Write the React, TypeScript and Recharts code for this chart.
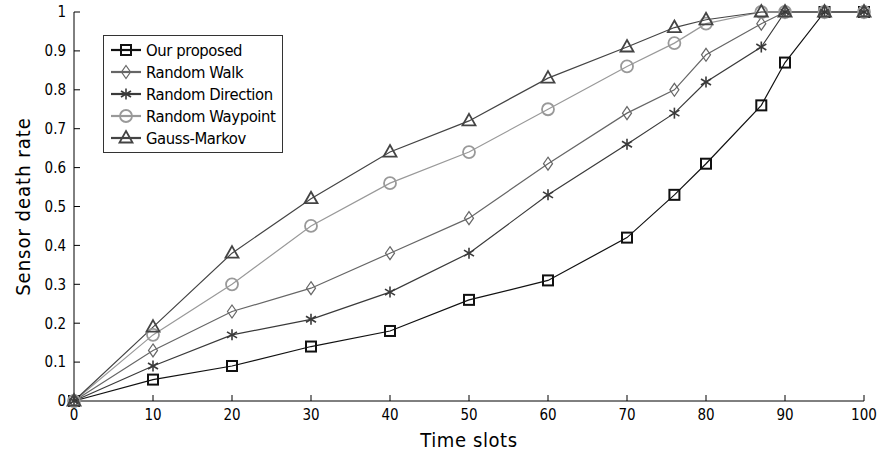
import { LineChart, Line, XAxis, YAxis, Legend, Label } from 'recharts'

const timeSlots = [0, 10, 20, 30, 40, 50, 60, 70, 76, 80, 87, 90, 95, 100]
const ourProposed = [0, 0.055, 0.09, 0.14, 0.18, 0.26, 0.31, 0.42, 0.53, 0.61, 0.76, 0.87, 1, 1]
const randomWalk = [0, 0.13, 0.23, 0.29, 0.38, 0.47, 0.61, 0.74, 0.8, 0.89, 0.97, 1, 1, 1]
const randomDirection = [0, 0.09, 0.17, 0.21, 0.28, 0.38, 0.53, 0.66, 0.74, 0.82, 0.91, 1, 1, 1]
const randomWaypoint = [0, 0.17, 0.3, 0.45, 0.56, 0.64, 0.75, 0.86, 0.92, 0.97, 1, 1, 1, 1]
const gaussMarkov = [0, 0.19, 0.38, 0.52, 0.64, 0.72, 0.83, 0.91, 0.96, 0.98, 1, 1, 1, 1]

const xTicks = [0, 10, 20, 30, 40, 50, 60, 70, 80, 90, 100]
const yTicks = [0, 0.1, 0.2, 0.3, 0.4, 0.5, 0.6, 0.7, 0.8, 0.9, 1]

type Marker = 'square' | 'diamond' | 'star' | 'circle' | 'triangle'

const series: { key: string; name: string; color: string; marker: Marker; values: number[] }[] = [
  { key: 'ourProposed', name: 'Our proposed', color: '#111', marker: 'square', values: ourProposed },
  { key: 'randomWalk', name: 'Random Walk', color: '#666', marker: 'diamond', values: randomWalk },
  { key: 'randomDirection', name: 'Random Direction', color: '#3a3a3a', marker: 'star', values: randomDirection },
  { key: 'randomWaypoint', name: 'Random Waypoint', color: '#999', marker: 'circle', values: randomWaypoint },
  { key: 'gaussMarkov', name: 'Gauss-Markov', color: '#444', marker: 'triangle', values: gaussMarkov }
]

const data = timeSlots.map((t, i) => {
  const row: Record<string, number> = { t }
  series.forEach((s) => {
    row[s.key] = s.values[i]
  })
  return row
})

const FONT = '"Liberation Sans Narrow", "DejaVu Sans Condensed", "Liberation Sans", sans-serif'

function markerShape(marker: Marker, cx: number, cy: number, color: string, key?: string) {
  switch (marker) {
    case 'square':
      return (
        <rect key={key} x={cx - 5} y={cy - 5} width={10} height={10} fill="none" stroke={color} strokeWidth={2} />
      )
    case 'diamond':
      return (
        <polygon
          key={key}
          points={`${cx},${cy - 6.5} ${cx + 4.5},${cy} ${cx},${cy + 6.5} ${cx - 4.5},${cy}`}
          fill="none"
          stroke={color}
          strokeWidth={1.2}
        />
      )
    case 'star':
      return (
        <g key={key} stroke={color} strokeWidth={1.6}>
          <line x1={cx} y1={cy - 5.5} x2={cx} y2={cy + 5.5} />
          <line x1={cx - 5} y1={cy - 3} x2={cx + 5} y2={cy + 3} />
          <line x1={cx - 5} y1={cy + 3} x2={cx + 5} y2={cy - 3} />
        </g>
      )
    case 'circle':
      return <circle key={key} cx={cx} cy={cy} r={6} fill="none" stroke={color} strokeWidth={1.8} />
    case 'triangle':
      return (
        <polygon
          key={key}
          points={`${cx},${cy - 7} ${cx + 6.5},${cy + 4.5} ${cx - 6.5},${cy + 4.5}`}
          fill="none"
          stroke={color}
          strokeWidth={1.8}
        />
      )
  }
}

function LegendBox() {
  return (
    <div
      style={{
        border: '1px solid #333',
        background: '#fff',
        padding: '3px 6px 3px 5px',
        fontFamily: FONT,
        fontSize: 16.5,
        letterSpacing: -0.4,
        color: '#000',
        whiteSpace: 'nowrap'
      }}
    >
      {series.map((s) => (
        <div key={s.key} style={{ display: 'flex', alignItems: 'center', height: 22 }}>
          <svg width={34} height={20} style={{ marginRight: 3 }}>
            <line x1={2} y1={10} x2={32} y2={10} stroke={s.color} strokeWidth={2.2} />
            {markerShape(s.marker, 17, 10, s.color)}
          </svg>
          <span>{s.name}</span>
        </div>
      ))}
    </div>
  )
}

export default function App() {
  return (
    <div style={{ position: 'absolute', left: 0, top: 0, width: 880, height: 454, background: '#fff' }}>
      <LineChart width={880} height={454} data={data} margin={{ top: 12, right: 16, bottom: 23, left: 0 }}>
        <XAxis
          dataKey="t"
          type="number"
          domain={[0, 100]}
          ticks={xTicks}
          height={30}
          stroke="#000"
          tickSize={-6}
          tickMargin={14}
          tick={{ fill: '#000', fontSize: 15, fontFamily: FONT }}
        >
          <Label
            value="Time slots"
            position="bottom"
            offset={2}
            style={{ fontSize: 20, letterSpacing: 0.6, fontFamily: FONT, fill: '#000' }}
          />
        </XAxis>
        <XAxis
          xAxisId="top"
          orientation="top"
          dataKey="t"
          type="number"
          domain={[0, 100]}
          ticks={xTicks}
          height={0}
          stroke="#000"
          mirror
          tickSize={6}
          tickFormatter={() => ''}
        />
        <YAxis
          type="number"
          domain={[0, 1]}
          ticks={yTicks}
          width={74}
          stroke="#000"
          tickSize={-6}
          tickMargin={14}
          tick={{ fill: '#000', fontSize: 15, fontFamily: FONT }}
        >
          <Label
            value="Sensor death rate"
            position="center"
            angle={-90}
            dx={-14}
            style={{ fontSize: 20, letterSpacing: 1, fontFamily: FONT, fill: '#000', textAnchor: 'middle' }}
          />
        </YAxis>
        <YAxis
          yAxisId="right"
          orientation="right"
          type="number"
          domain={[0, 1]}
          ticks={yTicks}
          width={0}
          stroke="#000"
          mirror
          tickSize={6}
          tickFormatter={() => ''}
        />
        <Legend
          layout="vertical"
          verticalAlign="middle"
          align="center"
          content={() => <LegendBox />}
          wrapperStyle={{ left: 103, top: 35, width: 'auto' }}
        />
        {series.map((s) => (
          <Line
            key={s.key}
            dataKey={s.key}
            name={s.name}
            stroke={s.color}
            strokeWidth={1.2}
            isAnimationActive={false}
            dot={(p: any) => markerShape(s.marker, p.cx, p.cy, s.color, `${s.key}-${p.index}`)}
            activeDot={false}
          />
        ))}
      </LineChart>
    </div>
  )
}
